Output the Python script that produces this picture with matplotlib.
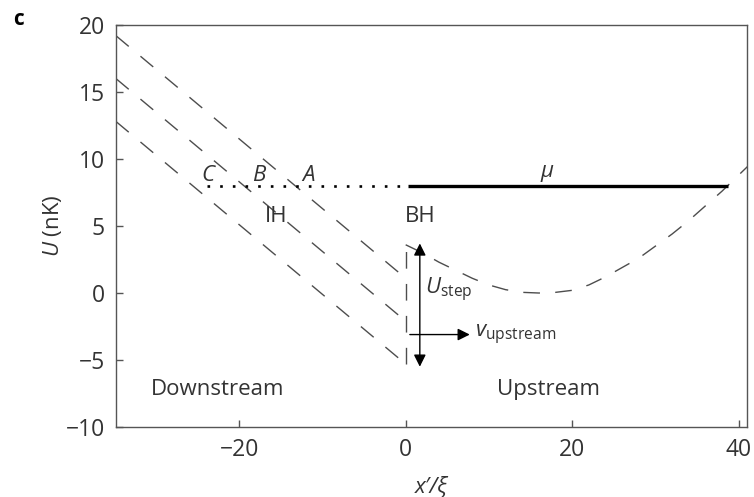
import matplotlib
matplotlib.use("Agg")
import matplotlib.pyplot as plt

plt.rcParams['font.family'] = ['Open Sans', 'DejaVu Sans']
plt.rcParams['mathtext.fontset'] = 'custom'
plt.rcParams['mathtext.rm'] = 'Open Sans'
plt.rcParams['mathtext.it'] = 'Open Sans:italic'

# downstream potential for the three step positions (A, B, C)
x_down = [-34.8, 0.0]
U_down_A = [19.2, 1.1]
U_down_B = [16.0, -2.1]
U_down_C = [12.8, -5.3]

# upstream trap potential
x_up = [0, 2, 4, 6, 8, 10, 12, 14, 16, 18, 20, 22, 24, 26, 28, 30, 32, 34, 36, 38, 40, 41.5]
U_up = [3.6, 3.0, 2.3, 1.7, 1.1, 0.6, 0.25, 0.05, 0.0, 0.05, 0.2, 0.6, 1.2, 1.9, 2.6, 3.5,
        4.4, 5.4, 6.5, 7.6, 8.8, 9.7]

# chemical potential
mu = 8.0
x_mu_dotted = [-23.9, 0.0]
x_mu_solid = [0.3, 38.7]

# step arrows
x_step_arrow = 1.7
U_step_range = [-5.5, 3.7]
v_arrow_x = [0.5, 7.7]
v_arrow_U = -3.1

dash_col = '#4d4d4d'
dash = (0, (12, 11))

fig = plt.figure(figsize=(7.54, 4.97), dpi=100)
ax = fig.add_axes([0.1538, 0.1408, 0.9907 - 0.1538, 0.9497 - 0.1408])

for U in (U_down_A, U_down_B, U_down_C):
    ax.plot(x_down, U, color=dash_col, lw=1.0, linestyle=dash)
ax.plot([0, 0], [U_down_C[-1], U_up[0]], color=dash_col, lw=1.0, linestyle=dash)
ax.plot(x_up, U_up, color=dash_col, lw=1.0, linestyle=dash)

ax.plot(x_mu_dotted, [mu, mu], color='black', lw=1.9, linestyle=(0, (1, 3.8)))
ax.plot(x_mu_solid, [mu, mu], color='black', lw=2.4, solid_capstyle='butt')

ax.annotate('', xy=(x_step_arrow, U_step_range[1]), xytext=(x_step_arrow, U_step_range[0]),
            arrowprops=dict(arrowstyle='<|-|>', color='black', lw=1.0,
                            mutation_scale=18, shrinkA=0, shrinkB=0))
ax.annotate('', xy=(v_arrow_x[1], v_arrow_U), xytext=(v_arrow_x[0], v_arrow_U),
            arrowprops=dict(arrowstyle='-|>', color='black', lw=1.0,
                            mutation_scale=18, shrinkA=0, shrinkB=0))

txt = dict(fontsize=16, color='#333333')
ax.text(-23.7, 8.8, 'C', style='italic', ha='center', va='center', **txt)
ax.text(-17.7, 8.8, 'B', style='italic', ha='center', va='center', **txt)
ax.text(-11.7, 8.8, 'A', style='italic', ha='center', va='center', **txt)
ax.text(-15.6, 5.7, 'IH', ha='center', va='center', **txt)
ax.text(1.7, 5.7, 'BH', ha='center', va='center', **txt)
ax.text(17.0, 8.9, r'$\mu$', ha='center', va='center', **txt)
ax.text(2.3, 0.2, r'$U_{\mathrm{step}}$', ha='left', va='center', **txt)
ax.text(8.3, -3.1, r'$v_{\mathrm{upstream}}$', ha='left', va='center', **txt)
ax.text(-22.6, -7.2, 'Downstream', ha='center', va='center', **txt)
ax.text(17.1, -7.2, 'Upstream', ha='center', va='center', **txt)

ax.set_xlim(-34.8, 41)
ax.set_ylim(-10, 20)
ax.set_xticks([-20, 0, 20, 40])
ax.set_yticks([-10, -5, 0, 5, 10, 15, 20])
ax.set_xticklabels(['\u221220', '0', '20', '40'])
ax.set_yticklabels(['\u221210', '\u22125', '0', '5', '10', '15', '20'])
ax.tick_params(direction='in', length=5, width=1, colors='#555555',
               labelcolor='#333333', labelsize=16.5, pad=8)
for s in ax.spines.values():
    s.set_color('#555555')
    s.set_linewidth(1.0)

ax.set_xlabel('x\u2032/\u03be', style='italic', fontsize=16, color='#333333', labelpad=10)
ax.set_ylabel(r'$U$ (nK)', fontsize=16, color='#333333', labelpad=1)
fig.text(0.025, 0.96, 'c', fontsize=15, fontweight='bold', ha='center', va='center')

fig.savefig('out.png', dpi=100)
